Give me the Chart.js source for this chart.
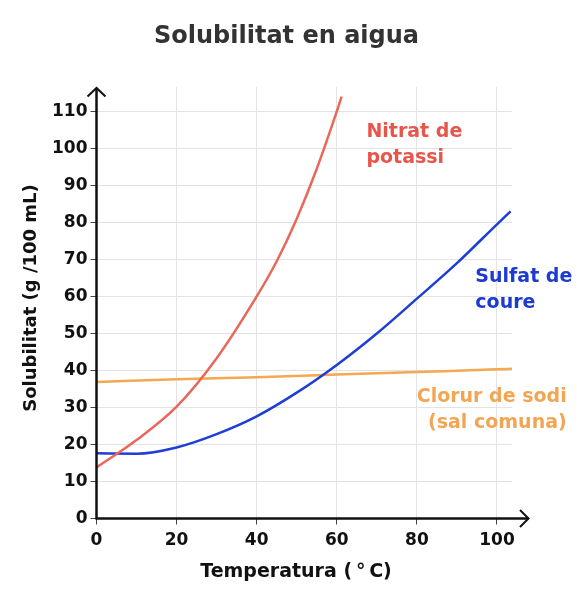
<!DOCTYPE html>
<html lang="ca">
<head>
<meta charset="UTF-8" />
<title>Solubilitat en aigua</title>
<script src="https://cdn.jsdelivr.net/npm/chart.js"></script>
<style>
  body { margin: 0; background: #fff; }
  canvas { display: block; }
</style>
</head>
<body>
<canvas id="solChart" width="577" height="607"></canvas>
<script>
  // temperature (°C) and solubility (g / 100 mL)
  const nitratTemp = [0, 10, 20, 30, 40, 45, 50, 55, 60, 61.2];
  const nitratSol = [13.8, 21.2, 30.2, 43.3, 60, 69.5, 81, 94.5, 110, 114];

  const sulfatTemp = [0, 10, 20, 30, 40, 50, 60, 70, 80, 90, 100, 103.4];
  const sulfatSol = [17.6, 17.5, 19.2, 22.8, 27.6, 34, 41.5, 50, 59.4, 69, 79.5, 83];

  const clorurTemp = [0, 20, 40, 60, 80, 100, 103.8];
  const clorurSol = [36.9, 37.6, 38.2, 38.9, 39.6, 40.3, 40.5];

  const xTicks = [0, 20, 40, 60, 80, 100];
  const yTicks = [0, 10, 20, 30, 40, 50, 60, 70, 80, 90, 100, 110];

  const chartTitle = 'Solubilitat en aigua';
  const xTitle = 'Temperatura (\u2009°\u2009C)';
  const yTitle = 'Solubilitat (g /100 mL)';
  const nitratLabel = ['Nitrat de', 'potassi'];
  const sulfatLabel = ['Sulfat de', 'coure'];
  const clorurLabel = ['Clorur de sodi', '(sal comuna)'];

  const toPoints = (xs, ys) => xs.map((x, i) => ({ x, y: ys[i] }));

  Chart.defaults.font.family = "'DejaVu Sans', sans-serif";

  // main title and axis titles, placed on the whole picture like the original
  const pageTitles = {
    id: 'pageTitles',
    afterDraw(chart) {
      const { ctx, width } = chart;
      ctx.save();
      ctx.textAlign = 'center';
      ctx.textBaseline = 'middle';
      ctx.fillStyle = '#333';
      ctx.font = "bold 24px 'DejaVu Sans'";
      ctx.fillText(chartTitle, width / 2 - 2, 37);
      ctx.fillStyle = '#111';
      ctx.font = "bold 19px 'DejaVu Sans'";
      ctx.fillText(xTitle, 296, 572);
      ctx.translate(31, 298);
      ctx.rotate(-Math.PI / 2);
      ctx.font = "bold 18px 'DejaVu Sans'";
      ctx.fillText(yTitle, 0, 0);
      ctx.restore();
    }
  };

  // black axes that run past the plot and end in open arrow heads
  const axisArrows = {
    id: 'axisArrows',
    afterDatasetsDraw(chart) {
      const { ctx, chartArea: a } = chart;
      ctx.save();
      ctx.strokeStyle = '#111';
      ctx.lineWidth = 2.5;
      ctx.beginPath();
      ctx.moveTo(a.left, a.bottom + 1);
      ctx.lineTo(a.left, a.top + 1);
      ctx.moveTo(a.left - 1, a.bottom);
      ctx.lineTo(a.right + 16.5, a.bottom);
      ctx.stroke();
      ctx.lineWidth = 2;
      ctx.beginPath();
      ctx.moveTo(a.left - 9, a.top + 9.5);
      ctx.lineTo(a.left, a.top + 1);
      ctx.lineTo(a.left + 9, a.top + 9.5);
      ctx.moveTo(a.right + 8, a.bottom - 8.5);
      ctx.lineTo(a.right + 16.5, a.bottom);
      ctx.lineTo(a.right + 8, a.bottom + 8.5);
      ctx.stroke();
      ctx.restore();
    }
  };

  // curve names written next to each line
  const curveLabels = {
    id: 'curveLabels',
    afterDatasetsDraw(chart) {
      const { ctx, scales: { x, y } } = chart;
      ctx.save();
      ctx.font = "bold 19px 'DejaVu Sans'";
      ctx.textBaseline = 'alphabetic';
      const put = (lines, color, vx, vy, align) => {
        ctx.fillStyle = color;
        ctx.textAlign = align;
        lines.forEach((t, i) => {
          ctx.fillText(t, x.getPixelForValue(vx), y.getPixelForValue(vy) + i * 26);
        });
      };
      put(nitratLabel, '#e8564b', 67.4, 103.1, 'left');
      put(sulfatLabel, '#1d3ccf', 94.6, 63.9, 'left');
      put(clorurLabel, '#f2a655', 117.4, 31.4, 'right');
      ctx.restore();
    }
  };

  new Chart(document.getElementById('solChart'), {
    type: 'scatter',
    data: {
      datasets: [
        {
          label: nitratLabel.join(' '),
          data: toPoints(nitratTemp, nitratSol),
          borderColor: '#e9685b'
        },
        {
          label: sulfatLabel.join(' '),
          data: toPoints(sulfatTemp, sulfatSol),
          borderColor: '#1f3ed6'
        },
        {
          label: clorurLabel.join(' '),
          data: toPoints(clorurTemp, clorurSol),
          borderColor: '#f4a850'
        }
      ].map(d => Object.assign(d, {
        showLine: true,
        pointRadius: 0,
        borderWidth: 2.5,
        cubicInterpolationMode: 'monotone'
      }))
    },
    options: {
      responsive: false,
      animation: false,
      layout: { padding: { top: 87, right: 65, left: 0, bottom: 0 } },
      plugins: {
        legend: { display: false },
        tooltip: { enabled: false },
        title: { display: false }
      },
      scales: {
        x: {
          type: 'linear',
          min: 0,
          max: 103.75,
          afterBuildTicks: s => { s.ticks = xTicks.map(v => ({ value: v })); },
          afterFit: s => { s.height = 88.5; },
          border: { display: false },
          grid: { color: '#e3e3e3', tickColor: '#444', tickLength: 6 },
          ticks: { color: '#111', font: { size: 17, weight: 'bold' }, padding: 6, maxRotation: 0 }
        },
        y: {
          min: 0,
          max: 116.6,
          afterBuildTicks: s => { s.ticks = yTicks.map(v => ({ value: v })); },
          afterFit: s => { s.width = 96.5; },
          border: { display: false },
          grid: { color: '#e3e3e3', tickColor: '#444', tickLength: 6 },
          ticks: { color: '#111', font: { size: 17, weight: 'bold' }, padding: 3 }
        }
      }
    },
    plugins: [axisArrows, curveLabels, pageTitles]
  });
</script>
</body>
</html>
